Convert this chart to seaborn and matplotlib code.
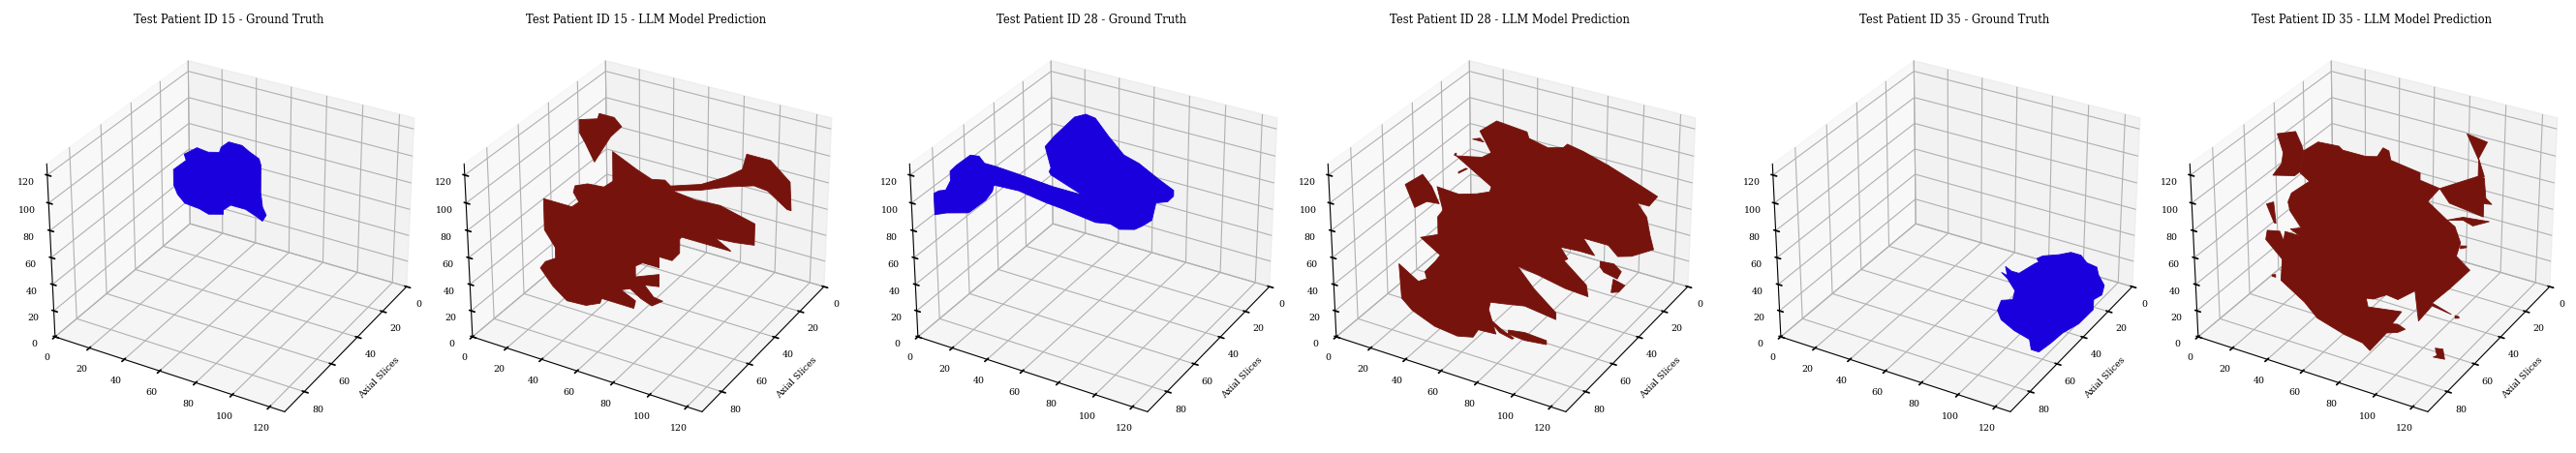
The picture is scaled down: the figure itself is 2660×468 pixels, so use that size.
import numpy as np
import matplotlib
matplotlib.use("Agg")
import matplotlib.pyplot as plt
import seaborn as sns
from mpl_toolkits.mplot3d.art3d import Poly3DCollection

# ---- data: tumour outlines (x, z) on one y slice per panel ----
p15_gt_x = [34,37,41,47,53,54,58,65,69,74,75,75,76,78,76,73,67,63,59,55,55,47,42,34,30,28,28,35]
p15_gt_z = [108,111,115,114,116,120,125,125,122,119,115,96,86,81,76,78,81,81,81,76,73,70,72,73,78,84,95,104]
p15_pred_a_x = [22,32,33,41,45,39,30,25,22]
p15_pred_a_z = [128,132,136,136,131,122,101,113,119]
p15_pred_b_x = [1,17,21,18,19,26,35,40,41,45,42,41,40,40,53,61,68,71,87,100,108,110,122,132,133,131,121,114,100,87,72,84,97,115,115,105,95,102,103,94,77,76,76,72,65,62,64,61,62,65,65,56,52,52,65,65,57,62,67,61,55,49,44,52,51,33,32,24,13,5,-2,1,7,7,18,21,28,28,23,18,7,1]
p15_pred_b_z = [64,64,69,75,80,84,85,91,83,78,78,83,91,112,104,100,102,99,106,116,124,135,135,124,105,105,114,115,109,102,96,94,95,89,74,72,71,66,65,65,65,63,53,46,46,60,58,56,60,46,38,38,34,26,33,24,22,15,14,8,11,16,13,8,2,2,-2,-7,-8,0,11,17,22,30,32,35,35,31,31,32,30,41]
p28_gt_x = [-31,-28,-24,-21,-21,-17,-9,-4,-1,5,18,37,52,55,36,35,36,33,38,49,55,60,67,75,83,93,101,101,98,92,90,85,81,73,68,60,42,33,18,4,3,-1,-11,-24,-31]
p28_gt_z = [56,59,61,69,76,82,92,93,89,89,88,86,86,85,94,96,99,113,122,139,143,142,132,122,119,112,107,103,98,95,82,76,72,69,71,69,72,73,76,75,70,62,49,44,40]
p28_pred_a_x = [42,51,59,67,68,78,86,88,96,109,109,114,109,109,109,126,134,130,124,129,131,133,122,115,110,97,103,95,85,89,87,99,100,88,73,62,66,70,75,72,66,62,71,83,83,66,55,47,46,50,40,37,28,15,2,-4,-5,6,11,15,22,33,33,15,11,10,16,19,8,18,18,21,25,28,31,28,25,21,18,30,40,47,48,63,69,76,83,88,87,83,76,70,63,48,29,43,48]
p28_pred_a_z = [127,137,136,135,131,128,131,134,132,127,109,109,107,109,127,119,115,107,107,99,87,78,69,66,72,72,62,62,61,54,52,39,31,32,36,38,53,52,49,46,53,38,25,12,7,10,7,5,-1,-18,-19,-26,-29,-27,-20,-13,13,4,8,-6,5,8,-10,-6,8,13,23,29,38,44,57,63,56,56,47,47,56,63,79,78,82,86,90,106,107,105,94,95,93,94,105,104,106,90,105,109,114]
p28_pred_b_x = [0,10,15,19,12,5]
p28_pred_b_z = [74,85,78,67,66,59]
p28_pred_c_x = [30,34,35,30]
p28_pred_c_z = [94,98,98,93]
p28_pred_d_x = [38,42,44,41]
p28_pred_d_z = [120,122,120,120]
p28_pred_e_x = [28,29,29,28]
p28_pred_e_z = [106,107,105,105]
p28_pred_f_x = [57,66,78,78,66,57]
p28_pred_f_z = [-12,-10,-11,-14,-16,-15]
p28_pred_g_x = [48,53,60,59,52,48]
p28_pred_g_z = [-9,-13,-17,-18,-16,-11]
p28_pred_h_x = [106,113,117,115,108,106]
p28_pred_h_z = [59,60,56,50,52,55]
p28_pred_i_x = [113,119,116,112]
p28_pred_i_z = [49,47,41,39]
p35_gt_x = [113,116,124,130,135,138,143,144,147,146,142,142,135,127,121,115,111,110,102,95,93,95,101,102,98,95,98,97,100,104,112,114]
p35_gt_z = [78,81,85,89,89,85,84,79,73,66,61,54,41,31,21,12,12,19,22,27,33,41,44,51,58,61,60,66,64,64,74,76]
p35_pred_a_x = [20,30,33,34,32,29,17,22,23]
p35_pred_a_z = [130,135,127,123,108,104,100,110,118]
p35_pred_b_x = [34,42,53,55,67,73,76,79,80,95,95,105,99,84,86,85,91,94,100,103,103,103,109,106,103,103,100,94,93,91,85,84,99,109,113,116,114,121,111,102,112,102,95,93,84,78,71,67,57,65,67,71,71,67,67,65,61,57,67,68,86,81,84,88,84,78,69,65,55,40,33,20,21,22,23,22,35,36,21,22,21,12,13,20,22,23,31,26,32,26,25,27,37,32]
p35_pred_b_z = [123,132,133,131,131,133,140,139,133,130,125,123,112,90,89,86,79,79,83,85,81,71,78,71,71,81,83,79,77,79,86,90,112,103,100,90,80,73,56,42,38,40,26,47,37,38,32,31,37,37,37,38,33,33,37,37,31,37,31,25,29,18,19,17,13,10,-7,-3,-1,5,14,25,41,42,42,30,29,28,28,42,41,52,59,61,55,62,62,65,68,78,84,91,103,107]
p35_pred_c_x = [105,125,127,128,131,127,127,110]
p35_pred_c_z = [123,139,138,125,122,121,112,115]
p35_pred_d_x = [109,117,130,122,117]
p35_pred_d_z = [103,108,110,104,106]
p35_pred_e_x = [118,128,124,127,124,124]
p35_pred_e_z = [164,162,150,139,138,149]
p35_pred_f_x = [13,17,18,17]
p35_pred_f_z = [78,81,66,66]
p35_pred_g_x = [104,108,109,103,105]
p35_pred_g_z = [10,11,4,3,5]
p35_pred_h_x = [114,116,116,114]
p35_pred_h_z = [38,38,37,36]
p35_pred_i_x = [15,17,17,15]
p35_pred_i_z = [27,28,26,26]
p35_pred_j_x = [116,119,119,116]
p35_pred_j_z = [88,89,88,86]

titles = ["Test Patient ID 15 - Ground Truth", "Test Patient ID 15 - LLM Model Prediction",
          "Test Patient ID 28 - Ground Truth", "Test Patient ID 28 - LLM Model Prediction",
          "Test Patient ID 35 - Ground Truth", "Test Patient ID 35 - LLM Model Prediction"]
slice_y = [45, 45, 45, 45, 60, 60]
panels = [
    [(p15_gt_x, p15_gt_z)],
    [(p15_pred_a_x, p15_pred_a_z), (p15_pred_b_x, p15_pred_b_z)],
    [(p28_gt_x, p28_gt_z)],
    [(p28_pred_a_x, p28_pred_a_z), (p28_pred_b_x, p28_pred_b_z), (p28_pred_c_x, p28_pred_c_z),
     (p28_pred_d_x, p28_pred_d_z), (p28_pred_e_x, p28_pred_e_z), (p28_pred_f_x, p28_pred_f_z),
     (p28_pred_g_x, p28_pred_g_z), (p28_pred_h_x, p28_pred_h_z), (p28_pred_i_x, p28_pred_i_z)],
    [(p35_gt_x, p35_gt_z)],
    [(p35_pred_a_x, p35_pred_a_z), (p35_pred_b_x, p35_pred_b_z), (p35_pred_c_x, p35_pred_c_z),
     (p35_pred_d_x, p35_pred_d_z), (p35_pred_e_x, p35_pred_e_z), (p35_pred_f_x, p35_pred_f_z),
     (p35_pred_g_x, p35_pred_g_z), (p35_pred_h_x, p35_pred_h_z), (p35_pred_i_x, p35_pred_i_z),
     (p35_pred_j_x, p35_pred_j_z)],
]
x_ticks = [0, 20, 40, 60, 80, 100, 120]
y_ticks = [0, 20, 40, 60, 80]
z_ticks = [0, 20, 40, 60, 80, 100, 120]

# ---- style and layout ----
sns.set_theme(style="white", rc={"grid.color": "#b0b0b0", "grid.linewidth": 0.8,
    "axes.edgecolor": "black", "axes.linewidth": 0.8, "xtick.color": "black", "ytick.color": "black",
    "text.color": "black", "axes.labelcolor": "black", "axes.titlecolor": "black", "axes3d.grid": True,
    "xtick.major.size": 3.5, "ytick.major.size": 3.5})
plt.rcParams["font.family"] = ["DejaVu Serif"]
W, H = 2660, 468
S, CY = 422, 241
CX = [236, 667, 1127, 1559, 2018, 2449]
COL = ["#1a00dc", "#76130c"] * 3
FIT_K = 1.043
FIT_C = {45: (30, 150), 60: (50, 175)}

fig = plt.figure(figsize=(W/100, H/100), dpi=100)
for i in range(6):
    ax = fig.add_axes([(CX[i]-S/2)/W, (H-CY-S/2)/H, S/W, S/H], projection="3d")
    y0 = slice_y[i]
    cx, cz = FIT_C[y0]
    for xs, zs in panels[i]:
        vx = cx + (np.array(xs, float) - cx)*FIT_K
        vz = cz + (np.array(zs, float) - cz)*FIT_K
        poly = Poly3DCollection([list(zip(vx, [y0]*len(vx), vz))], facecolor=COL[i], edgecolor=COL[i], linewidth=0.6)
        ax.add_collection3d(poly)
    ax.set_xlim(0, 128); ax.set_ylim(94, 0); ax.set_zlim(0, 128)
    ax.set_xticks(x_ticks); ax.set_yticks(y_ticks); ax.set_zticks(z_ticks)
    ax.tick_params(labelsize=6.8, pad=1)
    ax.set_ylabel("Axial Slices", fontsize=6.8, labelpad=0)
    ax.set_title(titles[i], fontsize=8.3, y=1.095, pad=2)
    ax.zaxis.set_ticks_position("upper")
fig.savefig("out.png", dpi=100)
